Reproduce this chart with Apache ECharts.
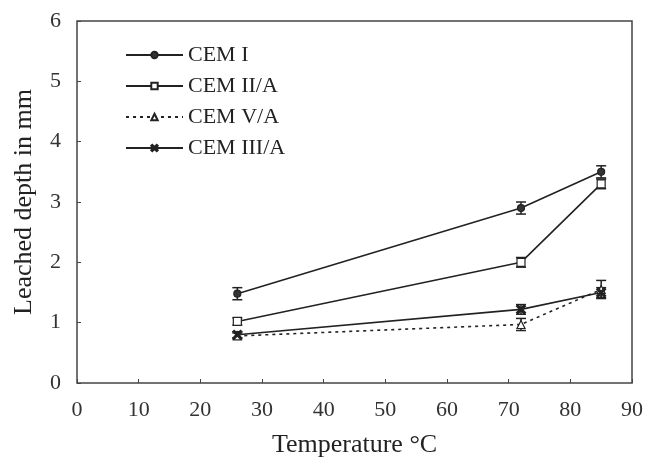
<!DOCTYPE html>
<html><head><meta charset="utf-8">
<script src="https://cdn.jsdelivr.net/npm/echarts@6/dist/echarts.min.js"></script>
<style>html,body{margin:0;padding:0;background:#fff}#c{width:646px;height:461px}</style>
</head><body><div id="c"></div>
<script>
const temps = [26, 72, 85];
const cemI = [1.48, 2.9, 3.5];
const cemIIA = [1.02, 2.0, 3.3];
const cemVA = [0.78, 0.97, 1.55];
const cemIIIA = [0.8, 1.22, 1.5];
const errI = [0.1, 0.1, 0.1];
const errIIA = [0.06, 0.08, 0.08];
const errVA = [0.05, 0.1, 0.15];
const errIIIA = [0.05, 0.08, 0.08];
const xTicks = [0,10,20,30,40,50,60,70,80,90];
const yTicks = [0,1,2,3,4,5,6];

const FONT = 'Liberation Serif';
const C = '#222';
const chart = echarts.init(document.getElementById('c'));
function pts(v){ return temps.map((t,i)=>[t,v[i]]); }
function errSeries(v, e){
  return {
    type:'custom', silent:true, z:1,
    data: temps.map((t,i)=>[t, v[i]-e[i], v[i]+e[i]]),
    renderItem: function(params, api){
      const lo = api.coord([api.value(0), api.value(1)]);
      const hi = api.coord([api.value(0), api.value(2)]);
      const w = 5;
      const st = {stroke:C, lineWidth:1.5};
      return {type:'group', children:[
        {type:'line', shape:{x1:lo[0],y1:lo[1],x2:hi[0],y2:hi[1]}, style:st},
        {type:'line', shape:{x1:lo[0]-w,y1:lo[1],x2:lo[0]+w,y2:lo[1]}, style:st},
        {type:'line', shape:{x1:hi[0]-w,y1:hi[1],x2:hi[0]+w,y2:hi[1]}, style:st}
      ]};
    }
  };
}
const xSym = 'path://M0,1.5L1.5,0L5,3.5L8.5,0L10,1.5L6.5,5L10,8.5L8.5,10L5,6.5L1.5,10L0,8.5L3.5,5Z';
function lineSeries(name, v, sym, size, fill, ltype){
  return {
    name, type:'line', data:pts(v), symbol:sym, symbolSize:size, z:3,
    lineStyle:{color:C, width:1.6, type:ltype||'solid'},
    itemStyle:{color:fill, borderColor:C, borderWidth:1.2},
    emphasis:{disabled:true}
  };
}
chart.setOption({
  animation:false,
  backgroundColor:'#fff',
  grid:{left:77, right:14, top:21, bottom:78, show:false, containLabel:false, outerBoundsMode:'none'},
  legend:{
    left:125, top:44, padding:0, orient:'vertical', itemWidth:57, itemHeight:8, itemGap:9,
    textStyle:{fontFamily:FONT, fontSize:22, color:C, padding:[0,0,0,0]},
    data:['CEM I','CEM II/A','CEM V/A','CEM III/A']
  },
  xAxis:{
    type:'value', min:0, max:90, interval:10,
    name:'Temperature °C', nameLocation:'middle', nameGap:49,
    nameTextStyle:{fontFamily:FONT, fontSize:26, color:C},
    axisLine:{show:false},
    axisTick:{show:true, inside:true, length:4, lineStyle:{color:'#444'}},
    axisLabel:{fontFamily:FONT, fontSize:22, color:'#333', margin:16, formatter:v=>xTicks.includes(v)?String(v):''},
    splitLine:{show:false}
  },
  yAxis:{
    type:'value', min:0, max:6, interval:1,
    name:'Leached depth in mm', nameLocation:'middle', nameGap:40,
    nameTextStyle:{fontFamily:FONT, fontSize:26, color:C},
    axisLine:{show:false},
    axisTick:{show:true, inside:true, length:4, lineStyle:{color:'#444'}},
    axisLabel:{fontFamily:FONT, fontSize:22, color:'#333', margin:16, formatter:v=>yTicks.includes(v)?String(v):''},
    splitLine:{show:false}
  },
  graphic:[{type:'rect', shape:{x:77, y:21, width:555, height:362}, style:{fill:'none', stroke:'#444', lineWidth:1.5}, silent:true, z:0}],
  series:[
    lineSeries('CEM I', cemI, 'circle', 7, '#333'),
    lineSeries('CEM II/A', cemIIA, 'rect', 8, '#fff'),
    lineSeries('CEM V/A', cemVA, 'triangle', 8, '#fff', [3,4]),
    lineSeries('CEM III/A', cemIIIA, xSym, 9, C),
    errSeries(cemI, errI), errSeries(cemIIA, errIIA), errSeries(cemVA, errVA), errSeries(cemIIIA, errIIIA)
  ]
});
</script></body></html>
